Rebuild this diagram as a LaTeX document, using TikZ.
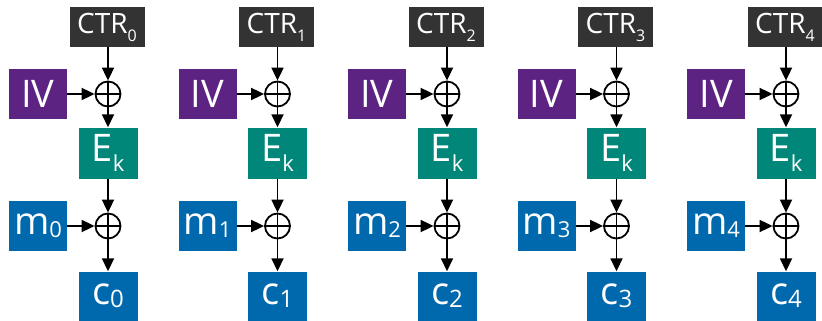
\documentclass[tikz,border=0pt]{standalone}
\usepackage{fontspec}
\setmainfont{Open Sans}
\usepackage{xcolor}
\usetikzlibrary{arrows.meta}

\definecolor{ctrgray}{HTML}{333333}
\definecolor{ivpurple}{HTML}{5C2383}
\definecolor{ekteal}{HTML}{00877A}
\definecolor{msgblue}{HTML}{0068AC}

% lowered subscript: drop (pt), size (pt), text
\newcommand{\lowsub}[3]{\raisebox{-#1pt}{\fontsize{#2}{#2}\selectfont #3}}

\begin{document}
\begin{tikzpicture}[x=1pt,y=-1pt,
  box/.style={rectangle, text=white, inner sep=0pt, font=\fontsize{38}{38}\selectfont},
  xor/.style={circle, draw, line width=1.8pt, minimum size=25pt, inner sep=0pt,
    path picture={\draw[line width=1.3pt]
      (path picture bounding box.north) -- (path picture bounding box.south)
      (path picture bounding box.west) -- (path picture bounding box.east);}},
  link/.style={line width=1.8pt, -{Triangle[length=13pt,width=12pt]}}]
\useasboundingbox (0,0) rectangle (822,321);
\def \colstep {169.5}

\foreach \i in {0,...,4}{
  \begin{scope}[xshift=\i*\colstep]
  \node[box, fill=ctrgray, minimum width=75pt, minimum height=40pt,
        font=\fontsize{28}{28}\selectfont] at (107,27) (ctr\i) {CTR\lowsub{8}{16}{\i}};
  \node[xor] at (108,94) (xa\i) {};
  \node[box, fill=ivpurple, minimum width=58pt, minimum height=50pt] at (38,94) (iv\i) {IV};
  \node[box, fill=ekteal, minimum width=59pt, minimum height=51pt] at (108,153) (ek\i) {E\lowsub{10}{22}{k}};
  \node[xor] at (108,226) (xb\i) {};
  \node[box, fill=msgblue, minimum width=58pt, minimum height=50pt] at (38,226) (m\i) {m\lowsub{3}{22}{\i}};
  \node[box, fill=msgblue, minimum width=59pt, minimum height=49pt] at (108,296) (c\i) {c\lowsub{3}{24}{\i}};

  \draw[link] (ctr\i.south -| xa\i) -- (xa\i);
  \draw[link] (iv\i) -- (xa\i);
  \draw[link] (xa\i) -- (ek\i);
  \draw[link] (ek\i) -- (xb\i);
  \draw[link] (m\i) -- (xb\i);
  \draw[link] (xb\i) -- (c\i);
  \end{scope}
}

\end{tikzpicture}
\end{document}
